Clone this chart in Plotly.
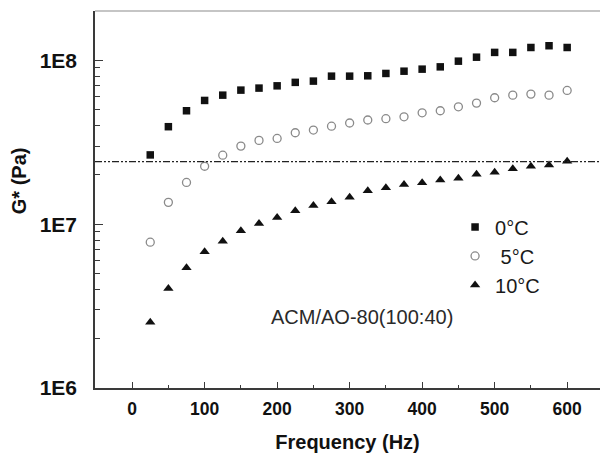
import plotly.graph_objects as go

# ---------------- data ----------------
freq = [25, 50, 75, 100, 125, 150, 175, 200, 225, 250, 275, 300,
        325, 350, 375, 400, 425, 450, 475, 500, 525, 550, 575, 600]

g_0C = [2.65e7, 3.94e7, 4.93e7, 5.70e7, 6.14e7, 6.59e7, 6.78e7, 7.00e7,
        7.35e7, 7.48e7, 8.02e7, 8.02e7, 8.06e7, 8.33e7, 8.60e7, 8.85e7,
        9.14e7, 9.90e7, 1.047e8, 1.12e8, 1.12e8, 1.20e8, 1.23e8, 1.20e8]

g_5C = [7.77e6, 1.36e7, 1.80e7, 2.26e7, 2.64e7, 3.00e7, 3.25e7, 3.34e7,
        3.62e7, 3.76e7, 3.97e7, 4.15e7, 4.33e7, 4.41e7, 4.53e7, 4.79e7,
        4.93e7, 5.21e7, 5.49e7, 5.92e7, 6.14e7, 6.23e7, 6.14e7, 6.56e7]

g_10C = [2.52e6, 4.05e6, 5.42e6, 6.78e6, 7.88e6, 9.14e6, 1.01e7, 1.10e7,
         1.21e7, 1.30e7, 1.37e7, 1.46e7, 1.60e7, 1.67e7, 1.75e7, 1.79e7,
         1.86e7, 1.91e7, 2.02e7, 2.08e7, 2.18e7, 2.26e7, 2.30e7, 2.42e7]

series_names = ["0°C", "\u00a05°C", "10°C"]
ref_level = 2.41e7
annotation_text = "ACM/AO-80(100:40)"

x_tickvals = [0, 100, 200, 300, 400, 500, 600]
y_tickvals = [1e6, 1e7, 1e8]
y_ticktext = ["1E6", "1E7", "1E8"]
y_minorvals = [m * 10 ** e for e in (6, 7) for m in range(2, 10)]

# ---------------- figure ----------------
FONT = "Liberation Sans, Arial, sans-serif"
AXC = "#3a3a3a"

fig = go.Figure()

fig.add_trace(go.Scatter(
    x=freq, y=g_0C, mode="markers", name=series_names[0],
    marker=dict(symbol="square", size=7.5, color="#111111",
                line=dict(width=0))))
fig.add_trace(go.Scatter(
    x=freq, y=g_5C, mode="markers", name=series_names[1],
    marker=dict(symbol="circle-open", size=8, color="#8a8a8a",
                line=dict(width=1.3, color="#8a8a8a"))))
fig.add_trace(go.Scatter(
    x=freq, y=g_10C, mode="markers", name=series_names[2],
    marker=dict(symbol="triangle-up", size=9, color="#111111",
                line=dict(width=0))))

# horizontal dash-dot-dot reference line
fig.add_shape(type="line", xref="paper", x0=0, x1=1, yref="y",
              y0=ref_level, y1=ref_level,
              line=dict(color="#222222", width=1.1,
                        dash="7px,2px,2px,2px,2px,2px"))

# top frame line
fig.add_shape(type="line", xref="paper", yref="paper", x0=0, x1=1,
              y0=1, y1=1, line=dict(color="#8c8c8c", width=1.2))

fig.add_annotation(x=317, y=0.154, xref="x", yref="paper",
                   text=annotation_text, showarrow=False,
                   font=dict(family=FONT, size=20, color="#2a2a2a"))

# y-axis title (placed slightly above the plot centre, as in the original)
fig.add_annotation(x=-0.1505, y=0.551, xref="paper", yref="paper",
                   xanchor="center", yanchor="middle",
                   text="G* (Pa)", showarrow=False, textangle=-90,
                   font=dict(family=FONT, size=20, color="#111111",
                             weight="bold"))

fig.update_layout(
    width=600, height=454,
    margin=dict(l=95, r=0, t=11, b=66),
    paper_bgcolor="white", plot_bgcolor="white",
    showlegend=True,
    legend=dict(x=0.713, y=0.479, xanchor="left", yanchor="top",
                bgcolor="rgba(0,0,0,0)", borderwidth=0,
                font=dict(family=FONT, size=20, color="#1a1a1a")),
    xaxis=dict(
        range=[-51.2, 645.3],
        tickmode="array", tickvals=x_tickvals,
        ticks="inside", ticklen=6, tickwidth=1.2, tickcolor=AXC,
        showline=True, linecolor=AXC, linewidth=1.5,
        showgrid=False, zeroline=False,
        tickfont=dict(family=FONT, size=17.5, color="#111111", weight="bold"),
        ticklabelstandoff=4,
        minor=dict(tickmode="linear", tick0=50, dtick=100, ticks="inside",
                   ticklen=3, tickwidth=1.2, tickcolor=AXC, showgrid=False),
        title=dict(text="Frequency (Hz)", standoff=17,
                   font=dict(family=FONT, size=20, color="#111111",
                             weight="bold")),
    ),
    yaxis=dict(
        type="log", range=[6, 8.302],
        tickmode="array", tickvals=y_tickvals, ticktext=y_ticktext,
        ticks="inside", ticklen=8, tickwidth=1.2, tickcolor=AXC,
        showline=True, linecolor=AXC, linewidth=1.5,
        showgrid=False, zeroline=False,
        tickfont=dict(family=FONT, size=21, color="#111111", weight="bold"),
        ticklabelstandoff=12,
        minor=dict(tickmode="array", tickvals=y_minorvals, ticks="inside",
                   ticklen=5, tickwidth=1.2, tickcolor=AXC, showgrid=False),
    ),
)

fig.write_html("out.html")
